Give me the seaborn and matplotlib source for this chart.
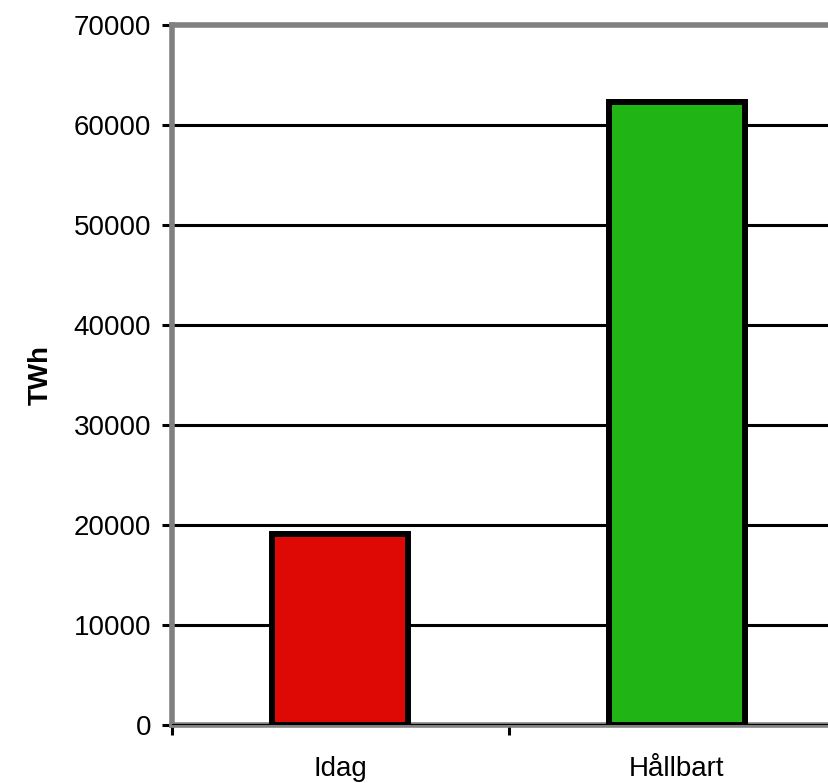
import matplotlib
matplotlib.use("Agg")
import matplotlib.pyplot as plt
import seaborn as sns
import pandas as pd

categories = ["Idag", "Hållbart"]
values = [19100, 62300]
bar_colors = ["#DE0805", "#20B515"]
y_ticks = [0, 10000, 20000, 30000, 40000, 50000, 60000, 70000]

df = pd.DataFrame({"kategori": categories, "TWh": values})

sns.set_style("white")
plt.rcParams["font.family"] = ["Liberation Sans", "DejaVu Sans"]

fig = plt.figure(figsize=(8.29, 7.83), dpi=100)
ax = fig.add_axes([0.2075, 0.0741, 0.812, 0.894])

sns.barplot(data=df, x="kategori", y="TWh", hue="kategori", palette=bar_colors,
            saturation=1, width=0.405, edgecolor="black", linewidth=4.3,
            legend=False, ax=ax, zorder=3)

ax.set_ylim(0, 70000)
ax.set_xlim(-0.5, 1.5)
ax.set_yticks(y_ticks)
ax.set_yticklabels([str(v) for v in y_ticks], fontsize=20, color="black")
for v in y_ticks[1:-1]:
    ax.axhline(v, color="black", lw=2.2, zorder=1)
ax.axhline(0, color="black", lw=2.2, zorder=4)

ax.set_xticks([0, 1])
ax.set_xticklabels(categories, fontsize=20, color="black")
ax.tick_params(axis="x", which="major", length=0, pad=22)
ax.set_xticks([-0.5, 0.5, 1.5], minor=True)
ax.tick_params(axis="x", which="minor", bottom=True, length=7, width=2.2,
               color="black", direction="out")
ax.tick_params(axis="y", left=True, length=7, width=2.2, color="black",
               direction="out", pad=8)

ax.set_xlabel("")
ax.set_ylabel("TWh", fontsize=20, fontweight="bold", labelpad=14, color="black")

for side in ["left", "bottom", "top"]:
    ax.spines[side].set_color("#808080")
    ax.spines[side].set_linewidth(4)
ax.spines["right"].set_visible(False)

fig.savefig("out.png", dpi=100)
